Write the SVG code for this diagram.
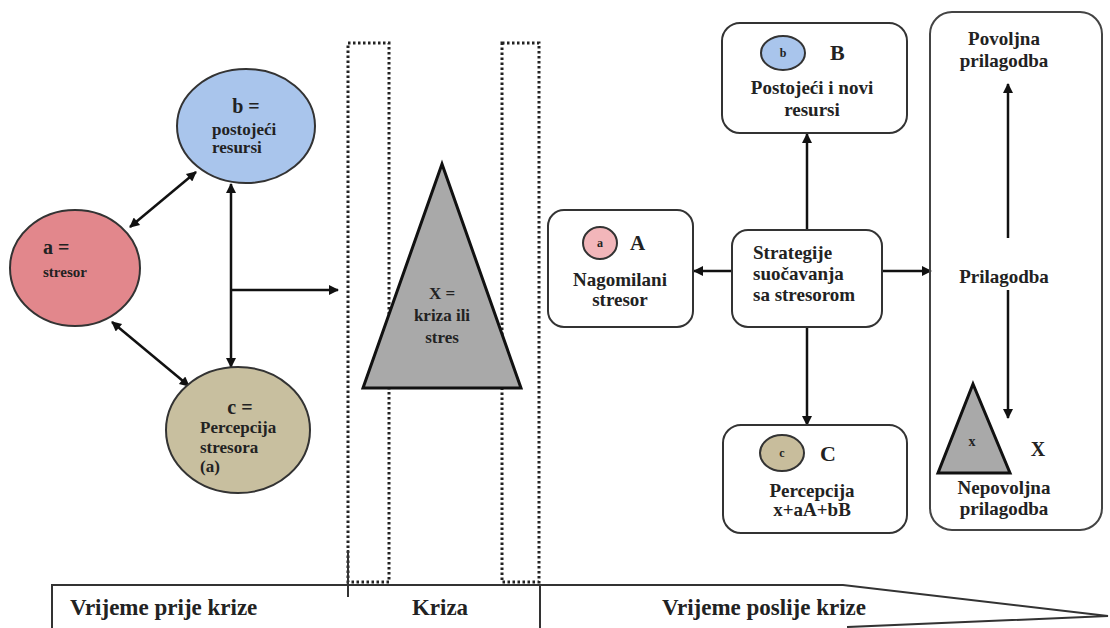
<svg xmlns="http://www.w3.org/2000/svg" width="1110" height="628" viewBox="0 0 1110 628">
<defs>
<marker id="ah" viewBox="0 0 10 10" refX="9" refY="5" markerWidth="12" markerHeight="10" markerUnits="userSpaceOnUse" orient="auto-start-reverse"><path d="M0,0 L10,5 L0,10 z" fill="#111"/></marker>
</defs>
<style>
text{font-family:'Liberation Serif','DejaVu Serif',serif;font-weight:bold;fill:#222}
.e{stroke:#333;stroke-width:2}
.box{fill:#fff;stroke:#333;stroke-width:2}
.c{stroke:#111;stroke-width:2.5;fill:none}
.dot{fill:none;stroke:#222;stroke-width:3;stroke-dasharray:2.5 2.5}
.m{text-anchor:middle}
</style>
<rect width="1110" height="628" fill="#fff"/>

<g id="columns">
<rect class="dot" x="348" y="43" width="41" height="539"/>
<rect class="dot" x="502" y="43" width="37" height="539"/>
<line x1="348" y1="550" x2="348" y2="597" stroke="#333" stroke-width="2"/>
</g>

<g id="timebar">
<path d="M52,640 V585 H843 L1108,616 L848,627 V640" fill="#fff" stroke="#333" stroke-width="2"/>
<line x1="540" y1="585" x2="540" y2="628" stroke="#333" stroke-width="2"/>
<line x1="348" y1="585" x2="348" y2="597" stroke="#333" stroke-width="2"/>
<text x="70" y="615" font-size="23">Vrijeme prije krize</text>
<text x="440" y="615" font-size="23" class="m">Kriza</text>
<text x="764" y="615" font-size="23" class="m">Vrijeme poslije krize</text>
</g>

<g id="connectors">
<line class="c" x1="130" y1="227" x2="196" y2="172" marker-start="url(#ah)" marker-end="url(#ah)"/>
<line class="c" x1="112" y1="322" x2="189" y2="386" marker-start="url(#ah)" marker-end="url(#ah)"/>
<line class="c" x1="231" y1="184" x2="231" y2="367" marker-start="url(#ah)" marker-end="url(#ah)"/>
<line class="c" x1="231" y1="290" x2="338" y2="290" marker-end="url(#ah)"/>
<line class="c" x1="732" y1="271" x2="694" y2="271" marker-end="url(#ah)"/>
<line class="c" x1="882" y1="271" x2="931" y2="271" marker-end="url(#ah)"/>
<line class="c" x1="807" y1="230" x2="807" y2="134" marker-end="url(#ah)"/>
<line class="c" x1="807" y1="327" x2="807" y2="425" marker-end="url(#ah)"/>
<line class="c" x1="1008" y1="238" x2="1008" y2="84" marker-end="url(#ah)"/>
<line class="c" x1="1008" y1="290" x2="1008" y2="418" marker-end="url(#ah)"/>
</g>

<g id="node-a">
<ellipse class="e" cx="75" cy="268" rx="65" ry="58" fill="#e2878c"/>
<text x="43" y="254" font-size="20">a =</text>
<text x="43" y="277" font-size="15">stresor</text>
</g>

<g id="node-b">
<ellipse class="e" cx="246" cy="126" rx="69" ry="57" fill="#a9c5ec"/>
<text x="246" y="113" font-size="20" class="m">b =</text>
<text x="212" y="135" font-size="17">postojeći</text>
<text x="212" y="153" font-size="17">resursi</text>
</g>

<g id="node-c">
<ellipse class="e" cx="238" cy="430" rx="72" ry="63" fill="#c8bf9f"/>
<text x="240" y="414" font-size="20" class="m">c =</text>
<text x="200" y="433" font-size="17">Percepcija</text>
<text x="200" y="453" font-size="17">stresora</text>
<text x="200" y="472" font-size="17">(a)</text>
</g>

<g id="node-X">
<polygon points="442,164 521,388 363,388" fill="#a9a9a9" stroke="#111" stroke-width="3" stroke-linejoin="miter"/>
<text x="442" y="299" font-size="17" class="m">X =</text>
<text x="442" y="321" font-size="17" class="m">kriza ili</text>
<text x="442" y="343" font-size="17" class="m">stres</text>
</g>

<g id="node-A">
<rect class="box" x="548" y="210" width="145" height="117" rx="16"/>
<ellipse cx="600" cy="243" rx="17" ry="16" fill="#f2b6ba" stroke="#333" stroke-width="2"/>
<text x="600" y="247" font-size="12" class="m">a</text>
<text x="630" y="250" font-size="21">A</text>
<text x="620" y="286" font-size="19" class="m">Nagomilani</text>
<text x="620" y="306" font-size="19" class="m">stresor</text>
</g>

<g id="node-S">
<rect class="box" x="732" y="230" width="150" height="97" rx="16"/>
<text x="753" y="259" font-size="19">Strategije</text>
<text x="753" y="280" font-size="19">suočavanja</text>
<text x="753" y="301" font-size="19">sa stresorom</text>
</g>

<g id="node-B">
<rect class="box" x="722" y="23" width="185" height="110" rx="18"/>
<ellipse cx="783" cy="53" rx="22" ry="17" fill="#a9c5ec" stroke="#333" stroke-width="2"/>
<text x="783" y="57" font-size="12" class="m">b</text>
<text x="830" y="60" font-size="22">B</text>
<text x="812" y="94" font-size="19" class="m">Postojeći i novi</text>
<text x="812" y="116" font-size="19" class="m">resursi</text>
</g>

<g id="node-C">
<rect class="box" x="723" y="425" width="184" height="108" rx="18"/>
<ellipse cx="782" cy="453" rx="22" ry="18" fill="#c8bd9c" stroke="#333" stroke-width="2"/>
<text x="782" y="457" font-size="12" class="m">c</text>
<text x="820" y="461" font-size="22">C</text>
<text x="812" y="497" font-size="19" class="m">Percepcija</text>
<text x="812" y="516" font-size="19" class="m">x+aA+bB</text>
</g>

<g id="node-P">
<rect x="930" y="12" width="172" height="518" rx="22" fill="none" stroke="#444" stroke-width="2"/>
<text x="1004" y="45" font-size="19" class="m">Povoljna</text>
<text x="1004" y="67" font-size="19" class="m">prilagodba</text>
<text x="1004" y="283" font-size="19" class="m">Prilagodba</text>
<polygon points="973,384 1010,473 938,473" fill="#a9a9a9" stroke="#111" stroke-width="3"/>
<text x="972" y="446" font-size="14" class="m">x</text>
<text x="1038" y="456" font-size="20" class="m">X</text>
<text x="1004" y="494" font-size="19" class="m">Nepovoljna</text>
<text x="1004" y="515" font-size="19" class="m">prilagodba</text>
</g>
</svg>
